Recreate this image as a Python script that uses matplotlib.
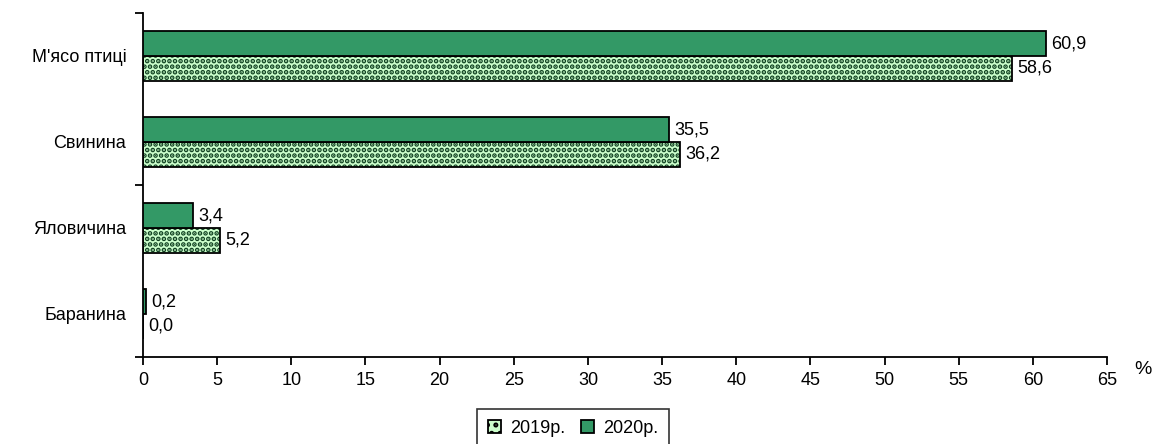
import numpy as np
import matplotlib
matplotlib.use("Agg")
import matplotlib.pyplot as plt
from matplotlib.patches import Patch

plt.rcParams['font.family'] = ['Liberation Sans', 'DejaVu Sans']
plt.rcParams['hatch.linewidth'] = 2.4

# data (bottom to top)
categories = ["Баранина", "Яловичина", "Свинина", "М'ясо птиці"]
values_2019 = [0.0, 5.2, 36.2, 58.6]
values_2020 = [0.2, 3.4, 35.5, 60.9]
series_names = ["2019р.", "2020р."]
x_ticks = np.arange(0, 66, 5)

color_2020 = "#339966"
color_2019 = "#ccffcc"
dot_color = "#0f4020"
fs = 13

fig = plt.figure(figsize=(11.54, 4.44), dpi=100)
ax = fig.add_axes([143 / 1154, 1 - 357 / 444, 964 / 1154, 344 / 444])

y = np.arange(len(categories))
h = 0.285

# 2019 hatched bars
ax.barh(y - h / 2, values_2019, height=h, color=color_2019, edgecolor=dot_color,
        hatch="...", linewidth=0, zorder=2)
ax.barh(y - h / 2, values_2019, height=h, fill=False, edgecolor="black",
        linewidth=1.3, zorder=3)
# 2020 solid bars
ax.barh(y + h / 2, values_2020, height=h, color=color_2020, edgecolor="black",
        linewidth=1.3, zorder=3)

for yi, v in zip(y, values_2019):
    ax.text(v + 0.35, yi - h / 2, f"{v:.1f}".replace(".", ","), va="center",
            ha="left", fontsize=fs)
for yi, v in zip(y, values_2020):
    ax.text(v + 0.35, yi + h / 2, f"{v:.1f}".replace(".", ","), va="center",
            ha="left", fontsize=fs)

ax.set_xlim(0, 65)
ax.set_ylim(-0.5, 3.5)
ax.set_xticks(x_ticks)
ax.set_xticklabels([str(t) for t in x_ticks], fontsize=fs)
ax.set_yticks(y)
ax.set_yticklabels(categories, fontsize=fs)
ax.set_yticks([-0.5, 1.5, 3.5], minor=True)
ax.tick_params(axis="y", which="major", length=0, pad=12)
ax.tick_params(axis="y", which="minor", length=6, width=1.3, direction="out")
ax.tick_params(axis="x", length=6, width=1.3, direction="out", pad=5)

for s in ["top", "right"]:
    ax.spines[s].set_visible(False)
for s in ["left", "bottom"]:
    ax.spines[s].set_linewidth(1.3)

fig.text(1143 / 1154, 1 - 369 / 444, "%", fontsize=fs + 1, ha="center", va="center")

handles = [Patch(facecolor=color_2019, edgecolor="black", hatch="..", linewidth=1.3),
           Patch(facecolor=color_2020, edgecolor="black", linewidth=1.3)]
leg = fig.legend(handles, series_names, loc="upper center", bbox_to_anchor=(573 / 1154, 1 - 409 / 444),
                 ncol=2, fontsize=fs, frameon=True, fancybox=False, edgecolor="black",
                 handlelength=0.7, handleheight=0.7, handletextpad=0.5, columnspacing=0.9,
                 borderpad=0.6, borderaxespad=0)
leg.get_frame().set_linewidth(1.2)

fig.savefig("out.png", dpi=100)
